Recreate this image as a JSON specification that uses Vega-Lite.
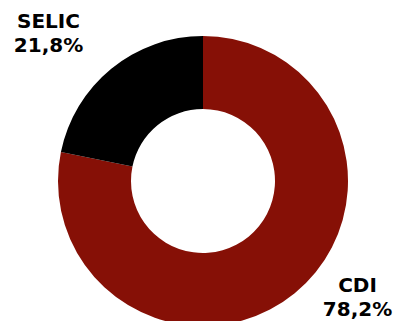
{
  "$schema": "https://vega.github.io/schema/vega-lite/v6.json",
  "width": 386,
  "height": 280,
  "autosize": {"type": "none"},
  "padding": {"left": 10, "right": 0, "top": 41, "bottom": 0},
  "background": "white",
  "data": {
    "values": [
      {"category": "CDI", "value": 78.2, "label": "CDI\n78,2%"},
      {"category": "SELIC", "value": 21.8, "label": "SELIC\n21,8%"}
    ]
  },
  "layer": [
    {
      "mark": {"type": "arc", "outerRadius": 145, "innerRadius": 72},
      "encoding": {
        "theta": {"field": "value", "type": "quantitative", "stack": true},
        "color": {
          "field": "category",
          "type": "nominal",
          "scale": {"domain": ["CDI", "SELIC"], "range": ["#861006", "#000000"]},
          "legend": null
        }
      }
    },
    {
      "mark": {"type": "text", "radius": 200, "font": "DejaVu Sans", "fontWeight": "bold", "fontSize": 20, "align": "center", "baseline": "alphabetic", "lineBreak": "\n", "lineHeight": 24, "dx": -28, "dy": 2, "color": "#000000"},
      "encoding": {
        "theta": {"field": "value", "type": "quantitative", "stack": true},
        "detail": {"field": "category", "type": "nominal"},
        "text": {"condition": {"test": "datum.category === 'SELIC'", "field": "label"}, "value": ""}
      }
    },
    {
      "mark": {"type": "text", "radius": 200, "font": "DejaVu Sans", "fontWeight": "bold", "fontSize": 20, "align": "center", "baseline": "alphabetic", "lineBreak": "\n", "lineHeight": 24, "dx": 28, "dy": -44, "color": "#000000"},
      "encoding": {
        "theta": {"field": "value", "type": "quantitative", "stack": true},
        "detail": {"field": "category", "type": "nominal"},
        "text": {"condition": {"test": "datum.category === 'CDI'", "field": "label"}, "value": ""}
      }
    }
  ],
  "config": {"view": {"stroke": null}}
}
